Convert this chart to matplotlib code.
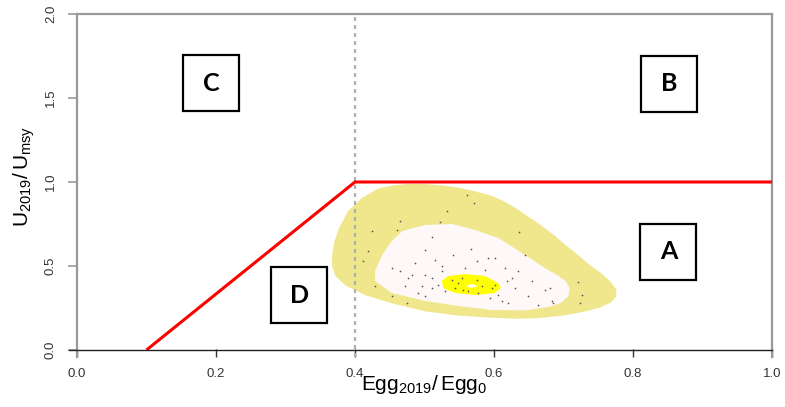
import matplotlib
matplotlib.use("Agg")
import matplotlib.pyplot as plt
from matplotlib.patches import Polygon

plt.rcParams["font.family"] = ["Liberation Sans", "DejaVu Sans"]
plt.rcParams["mathtext.fontset"] = "custom"
plt.rcParams["mathtext.rm"] = "Liberation Sans"
plt.rcParams["mathtext.it"] = "Liberation Sans"

# reference points (Egg/Egg0, U/Umsy)
ref_x = [0.1, 0.4, 1.0]
ref_y = [0.0, 1.0, 1.0]
egg_lim = 0.4

# outer contour (khaki)
outer_x = [0.410, 0.433, 0.455, 0.476, 0.500, 0.525, 0.550, 0.573, 0.595, 0.612,
           0.630, 0.645, 0.660, 0.673, 0.688, 0.700, 0.714, 0.738, 0.755, 0.768,
           0.776, 0.776, 0.768, 0.752, 0.730, 0.700, 0.665, 0.630, 0.597, 0.548,
           0.501, 0.453, 0.414, 0.386, 0.372, 0.367, 0.367, 0.370, 0.377, 0.390]
outer_y = [0.905, 0.960, 0.980, 0.988, 0.988, 0.980, 0.965, 0.944, 0.920, 0.890,
           0.848, 0.806, 0.765, 0.726, 0.679, 0.635, 0.589, 0.506, 0.455, 0.405,
           0.360, 0.320, 0.282, 0.252, 0.228, 0.205, 0.190, 0.186, 0.192, 0.205,
           0.230, 0.278, 0.327, 0.385, 0.440, 0.500, 0.560, 0.640, 0.726, 0.827]

# middle contour (snow)
mid_x = [0.468, 0.501, 0.540, 0.573, 0.606, 0.645, 0.673, 0.691, 0.703, 0.709,
         0.707, 0.698, 0.685, 0.666, 0.645, 0.597, 0.548, 0.501, 0.453, 0.429,
         0.429, 0.439, 0.453]
mid_y = [0.708, 0.744, 0.750, 0.714, 0.667, 0.565, 0.488, 0.446, 0.410, 0.369,
         0.320, 0.285, 0.262, 0.248, 0.236, 0.238, 0.262, 0.292, 0.339, 0.411,
         0.470, 0.565, 0.649]

# inner contour (yellow)
inner_x = [0.525, 0.534, 0.558, 0.587, 0.606, 0.610, 0.601, 0.573, 0.544, 0.527]
inner_y = [0.411, 0.440, 0.452, 0.440, 0.399, 0.369, 0.339, 0.327, 0.339, 0.369]

# peak (white spot)
peak_x = [0.560, 0.568, 0.577, 0.568]
peak_y = [0.381, 0.393, 0.381, 0.369]

# posterior samples
pts_x = [0.561, 0.571, 0.532, 0.465, 0.522, 0.460, 0.424, 0.636, 0.511, 0.419,
         0.501, 0.567, 0.541, 0.591, 0.601, 0.645, 0.412, 0.486, 0.525, 0.558,
         0.465, 0.501, 0.511, 0.476, 0.453, 0.626, 0.635, 0.655, 0.472, 0.496,
         0.519, 0.429, 0.453, 0.475, 0.501, 0.529, 0.548, 0.583, 0.597, 0.563,
         0.594, 0.612, 0.620, 0.630, 0.649, 0.673, 0.683, 0.663, 0.721, 0.727,
         0.724, 0.685, 0.681, 0.540, 0.554, 0.576, 0.544, 0.555, 0.601, 0.491,
         0.511, 0.577, 0.606, 0.619, 0.482, 0.525, 0.587, 0.616, 0.576, 0.515]
pts_y = [0.923, 0.875, 0.827, 0.768, 0.762, 0.714, 0.708, 0.702, 0.673, 0.589,
         0.595, 0.601, 0.565, 0.548, 0.548, 0.565, 0.530, 0.518, 0.500, 0.488,
         0.470, 0.446, 0.429, 0.429, 0.488, 0.429, 0.470, 0.411, 0.381, 0.381,
         0.387, 0.381, 0.321, 0.280, 0.321, 0.351, 0.399, 0.381, 0.369, 0.351,
         0.310, 0.292, 0.280, 0.369, 0.321, 0.357, 0.292, 0.268, 0.405, 0.327,
         0.280, 0.280, 0.369, 0.417, 0.429, 0.417, 0.369, 0.357, 0.387, 0.339,
         0.369, 0.339, 0.327, 0.411, 0.446, 0.470, 0.476, 0.488, 0.530, 0.536]

# quadrant labels
quad_labels = ["C", "B", "A", "D"]
quad_x = [0.193, 0.852, 0.851, 0.320]
quad_y = [1.589, 1.586, 0.586, 0.327]

fig = plt.figure(figsize=(7.85, 4.07), dpi=100)
ax = fig.add_axes([0.0981, 0.1229, 0.8853, 0.8427])

ax.add_patch(Polygon(list(zip(outer_x, outer_y)), closed=True,
                     facecolor="#F0E68C", edgecolor="none", zorder=1))
ax.add_patch(Polygon(list(zip(mid_x, mid_y)), closed=True,
                     facecolor="#FFF8F8", edgecolor="none", zorder=2))
ax.add_patch(Polygon(list(zip(inner_x, inner_y)), closed=True,
                     facecolor="#FFFF00", edgecolor="none", zorder=3))
ax.add_patch(Polygon(list(zip(peak_x, peak_y)), closed=True,
                     facecolor="white", edgecolor="none", zorder=4))

ax.scatter(pts_x, pts_y, s=1.5, color="#555555", linewidths=0, zorder=5)

ax.axvline(egg_lim, color="#B0B0B0", lw=1.6, linestyle=(0, (1.8, 1.8)), zorder=6)
ax.plot(ref_x, ref_y, color="#FF0000", lw=2.2, zorder=7, solid_capstyle="butt")
ax.plot([-0.012, 1.0], [0, 0], color="#222222", lw=1.0, clip_on=False, zorder=8)

for lab, qx, qy in zip(quad_labels, quad_x, quad_y):
    ax.plot(qx, qy, marker="s", markersize=41, markerfacecolor="white",
            markeredgecolor="black", markeredgewidth=1.6, zorder=9)
    ax.text(qx, qy, lab, ha="center", va="center", fontsize=18,
            fontweight="bold", family=["Lato", "DejaVu Sans"], zorder=10)

ax.set_xlim(0, 1)
ax.set_ylim(-0.0417, 2.0)
ax.set_xticks([0.0, 0.2, 0.4, 0.6, 0.8, 1.0])
ax.set_yticks([0.0, 0.5, 1.0, 1.5, 2.0])
ax.set_xticklabels(["0.0", "0.2", "0.4", "0.6", "0.8", "1.0"])
ax.set_yticklabels(["0.0", "0.5", "1.0", "1.5", "2.0"], rotation=90, va="center")

ax.tick_params(axis="x", direction="in", length=6, width=1, color="#333333",
               labelsize=9.5, labelcolor="#333333", pad=8)
ax.tick_params(axis="y", direction="out", length=6.5, width=1.2, color="#999999",
               labelsize=9.5, labelcolor="#333333", pad=8)

for side in ["left", "top", "right"]:
    ax.spines[side].set_color("#999999")
    ax.spines[side].set_linewidth(1.6)
ax.spines["bottom"].set_visible(False)

ax.set_xlabel(r"$\mathregular{Egg_{2019}/\,Egg_0}$", fontsize=15)
ax.set_ylabel(r"$\mathregular{U_{2019}/\,U_{msy}}$", fontsize=15)
ax.xaxis.set_label_coords(0.5, -0.048)
ax.yaxis.set_label_coords(-0.058, 0.525)

fig.savefig("out.png", dpi=100)
